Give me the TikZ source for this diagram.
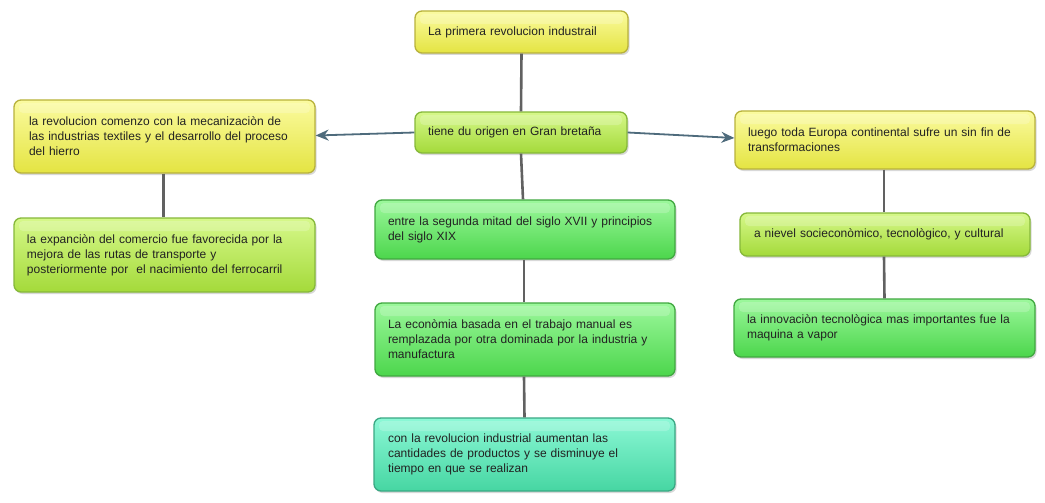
\documentclass[tikz,border=0pt]{standalone}
\usepackage{fontspec}
\setmainfont{Liberation Sans}
\usetikzlibrary{shadows,arrows.meta}
\definecolor{ytop}{HTML}{FBFBA0}
\definecolor{ybot}{HTML}{E4E442}
\definecolor{yedge}{HTML}{B8B23C}
\definecolor{gtop}{HTML}{D6F88A}
\definecolor{gbot}{HTML}{A4DA3A}
\definecolor{gedge}{HTML}{86B83A}
\definecolor{ntop}{HTML}{9CF89C}
\definecolor{nbot}{HTML}{4CD64C}
\definecolor{nedge}{HTML}{40A840}
\definecolor{ttop}{HTML}{8CF8D6}
\definecolor{tbot}{HTML}{46D6A2}
\definecolor{tedge}{HTML}{3AA884}
\definecolor{arrowc}{HTML}{4E6B7C}
\definecolor{txt}{HTML}{222222}
\tikzset{
  box/.style={rounded corners=7pt, line width=1.3pt,
    drop shadow={shadow xshift=1.5pt,shadow yshift=-2pt,opacity=0.3},
    font=\fontsize{12}{15}\selectfont, text=txt, align=left, inner sep=0pt,
    path picture={\fill[white,opacity=0.2,rounded corners=4pt]
      ([xshift=5pt,yshift=-3pt]path picture bounding box.north west) rectangle
      ([xshift=-5pt,yshift=-13pt]path picture bounding box.north east);}},
  yb/.style={box, top color=ytop, bottom color=ybot, draw=yedge},
  gb/.style={box, top color=gtop, bottom color=gbot, draw=gedge},
  nb/.style={box, top color=ntop, bottom color=nbot, draw=nedge},
  tb/.style={box, top color=ttop, bottom color=tbot, draw=tedge},
  vline/.style={line width=2.6pt, draw=black!62},
  arr/.style={line width=1.8pt, draw=arrowc, -{Stealth[length=13pt,width=11pt]}}
}
\begin{document}
\begin{tikzpicture}[x=1pt,y=-1pt]
\fill[white] (0,0) rectangle (1045,503);
\useasboundingbox (0,0) rectangle (1045,503);

\node[yb, minimum width=213pt, minimum height=42pt, text width=187pt] (A) at (521.5,32)
  {\mbox{La primera revolucion industrail}};
\node[gb, minimum width=212pt, minimum height=41pt, text width=186pt] (B) at (521,132.5)
  {\mbox{tiene du origen en Gran bretaña}};

\node[yb, minimum width=301pt, minimum height=73pt, text width=271pt] (L1) at (164.5,136.5)
  {\mbox{la revolucion comenzo con la mecanizaciòn de}\\\mbox{las industrias textiles y el desarrollo del proceso}\\\mbox{del hierro}};
\node[gb, minimum width=301pt, minimum height=74pt, text width=275pt] (L2) at (164.5,255)
  {\mbox{la expanciòn del comercio fue favorecida por la}\\\mbox{mejora de las rutas de transporte y}\\\mbox{posteriormente por\ \ el nacimiento del ferrocarril}};

\node[nb, minimum width=300pt, minimum height=59pt, text width=274pt] (C1) at (525,229.5)
  {\mbox{entre la segunda mitad del siglo XVII y principios}\\\mbox{del siglo XIX}};
\node[nb, minimum width=300pt, minimum height=73pt, text width=274pt] (C2) at (525,339.5)
  {\mbox{La econòmia basada en el trabajo manual es}\\\mbox{remplazada por otra dominada por la industria y}\\\mbox{manufactura}};
\node[tb, minimum width=301pt, minimum height=73pt, text width=273pt] (C3) at (524.5,454.5)
  {\mbox{con la revolucion industrial aumentan las}\\\mbox{cantidades de productos y se disminuye el}\\\mbox{tiempo en que se realizan}};

\node[yb, minimum width=300pt, minimum height=58pt, text width=274pt] (R1) at (885,140)
  {\mbox{luego toda Europa continental sufre un sin fin de}\\\mbox{transformaciones}};
\node[gb, minimum width=290pt, minimum height=43pt, text width=262pt] (R2) at (885,234.5)
  {\mbox{a nievel socieconòmico, tecnològico, y cultural}};
\node[nb, minimum width=301pt, minimum height=58pt, text width=275pt] (R3) at (884.5,328)
  {\mbox{la innovaciòn tecnològica mas importantes fue la}\\\mbox{maquina a vapor}};

\draw[vline] (A.south) -- (B.north);
\draw[vline] (B.south) -- ([xshift=-2pt]C1.north);
\draw[vline] ([xshift=-1pt]C1.south) -- ([xshift=-1pt]C2.north);
\draw[vline] ([xshift=-1pt]C2.south) -- (C3.north);
\draw[vline] ([xshift=-1pt]L1.south) -- ([xshift=-1pt]L2.north);
\draw[vline] ([xshift=-1pt]R1.south) -- ([xshift=-1pt]R2.north);
\draw[vline] ([xshift=-1pt]R2.south) -- (R3.north);

\draw[arr] (B.west) -- ([yshift=1pt]L1.east);
\draw[arr] (B.east) -- ([yshift=2pt]R1.west);
\end{tikzpicture}
\end{document}
